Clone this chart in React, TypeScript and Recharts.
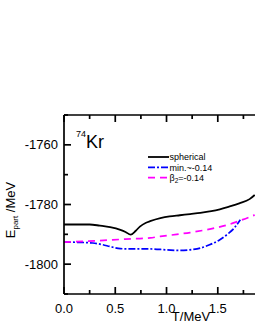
import { LineChart, Line, XAxis, YAxis } from "recharts";

// temperature (MeV) and energy (MeV)
const tSpherical = [0, 0.1, 0.25, 0.35, 0.45, 0.55, 0.6, 0.65, 0.7, 0.74, 0.8, 0.84, 0.94, 1.03, 1.13, 1.23, 1.33, 1.42, 1.52, 1.61, 1.71, 1.81, 1.86];
const eSpherical = [-1786.7, -1786.7, -1786.7, -1787.1, -1787.6, -1788.5, -1789.2, -1790.1, -1788.8, -1787.4, -1786.1, -1785.6, -1784.6, -1784.0, -1783.6, -1783.2, -1782.8, -1782.3, -1781.6, -1780.7, -1779.6, -1778.2, -1776.8];

const tMin = [0, 0.15, 0.28, 0.38, 0.45, 0.55, 0.7, 0.84, 1.0, 1.13, 1.25, 1.33, 1.42, 1.52, 1.6, 1.66, 1.72];
const eMin = [-1792.6, -1792.7, -1792.9, -1793.5, -1794.1, -1794.8, -1794.9, -1794.9, -1795.2, -1795.4, -1795.1, -1794.6, -1793.5, -1791.8, -1789.8, -1787.9, -1785.1];

const tBeta = [0, 0.3, 0.6, 0.84, 0.94, 1.1, 1.23, 1.35, 1.47, 1.6, 1.7, 1.81, 1.86];
const eBeta = [-1792.6, -1792.2, -1791.6, -1791.2, -1790.7, -1790.0, -1789.4, -1788.7, -1787.9, -1786.8, -1785.6, -1784.2, -1783.5];

const xTicks = [0, 0.25, 0.5, 0.75, 1, 1.25, 1.5, 1.75];
const xLabels = [0, 0.5, 1, 1.5];
const yTicks = [-1810, -1800, -1790, -1780, -1770, -1760, -1750];
const yLabels = [-1800, -1780, -1760];

const X_DOMAIN = [0, 1.863];
const Y_DOMAIN = [-1810, -1750];

const toPoints = (t: number[], e: number[]) => t.map((v, i) => ({ t: v, e: e[i] }));

const FONT = "'Liberation Sans', Arial, sans-serif";
const AXIS_W = 1.7;

// plot box in page pixels; chart margins and axis sizes are derived from it
const W = 255, H = 330;
const PLOT = { left: 64, right: 255, top: 115, bottom: 294 };
const Y_AXIS_W = 40, X_AXIS_H = 30, TOP_AXIS_H = 10;

const sx = (t: number) => PLOT.left + ((t - X_DOMAIN[0]) / (X_DOMAIN[1] - X_DOMAIN[0])) * (PLOT.right - PLOT.left);
const sy = (e: number) => PLOT.bottom - ((e - Y_DOMAIN[0]) / (Y_DOMAIN[1] - Y_DOMAIN[0])) * (PLOT.bottom - PLOT.top);

const SERIES = [
  { key: "spherical", data: toPoints(tSpherical, eSpherical), color: "#000000", dash: undefined, width: 1.8 },
  { key: "min", data: toPoints(tMin, eMin), color: "#0000ff", dash: "7 2 2 2", width: 1.7 },
  { key: "beta", data: toPoints(tBeta, eBeta), color: "#ff00ff", dash: "7 5", width: 1.7 },
];

function BottomLabel(props: any) {
  const { x, y, payload } = props;
  if (!xLabels.includes(payload.value)) return <g />;
  return (
    <text x={x} y={y + 18.5} textAnchor="middle" fontSize={13} fontFamily={FONT} fill="#000">
      {payload.value.toFixed(1)}
    </text>
  );
}

function LeftLabel(props: any) {
  const { x, y, payload } = props;
  if (!yLabels.includes(payload.value)) return <g />;
  return (
    <text x={x - 6} y={y + 4.6} textAnchor="end" fontSize={13} fontFamily={FONT} fill="#000">
      {payload.value}
    </text>
  );
}

// inward tick marks (major 7px, minor 4px) on bottom, top and left axes
function TickMarks() {
  return (
    <g fill="#000">
      {xTicks.map((t) => {
        const len = xLabels.includes(t) ? 7 : 4;
        const x = sx(t) - AXIS_W / 2;
        return (
          <g key={`x${t}`}>
            <rect x={x} y={PLOT.bottom - len} width={AXIS_W} height={len} />
            <rect x={x} y={PLOT.top} width={AXIS_W} height={len} />
          </g>
        );
      })}
      {yTicks.map((e) => {
        const len = yLabels.includes(e) ? 7 : 4;
        return <rect key={`y${e}`} x={PLOT.left} y={sy(e) - AXIS_W / 2} width={len} height={AXIS_W} />;
      })}
    </g>
  );
}

function LegendBox() {
  const rows = [
    { label: <tspan>spherical</tspan>, s: SERIES[0] },
    { label: <tspan>min.~-0.14</tspan>, s: SERIES[1] },
    {
      label: (
        <>
          <tspan>β</tspan>
          <tspan fontSize={6.5} dy={2}>2</tspan>
          <tspan dy={-2}>=-0.14</tspan>
        </>
      ),
      s: SERIES[2],
    },
  ];
  return (
    <g transform="translate(146,152)">
      {rows.map((r, i) => (
        <g key={i}>
          <line x1={2} x2={23} y1={5 + i * 10.3} y2={5 + i * 10.3} stroke={r.s.color} strokeWidth={r.s.width} strokeDasharray={r.s.dash} />
          <text x={23.5} y={8.2 + i * 10.3} fontSize={9} fontFamily={FONT} fill="#000">
            {r.label}
          </text>
        </g>
      ))}
    </g>
  );
}

export default function App() {
  return (
    <div style={{ position: "absolute", left: 0, top: 0, width: W, height: H, background: "#fff" }}>
      <LineChart
        width={W}
        height={H}
        margin={{
          top: PLOT.top - TOP_AXIS_H,
          right: W - PLOT.right,
          bottom: H - PLOT.bottom - X_AXIS_H,
          left: PLOT.left - Y_AXIS_W,
        }}
      >
        <XAxis
          xAxisId="b"
          dataKey="t"
          type="number"
          domain={X_DOMAIN}
          ticks={xTicks}
          height={X_AXIS_H}
          tickSize={0}
          tickMargin={0}
          tickLine={false}
          tick={BottomLabel}
          axisLine={{ stroke: "#000", strokeWidth: AXIS_W }}
          interval={0}
        />
        <XAxis
          xAxisId="t"
          orientation="top"
          dataKey="t"
          type="number"
          domain={X_DOMAIN}
          height={TOP_AXIS_H}
          tickLine={false}
          tick={false}
          axisLine={{ stroke: "#000", strokeWidth: AXIS_W }}
        />
        <YAxis
          type="number"
          domain={Y_DOMAIN}
          ticks={yTicks}
          width={Y_AXIS_W}
          tickSize={0}
          tickMargin={0}
          tickLine={false}
          tick={LeftLabel}
          axisLine={{ stroke: "#000", strokeWidth: AXIS_W }}
          interval={0}
        />
        {SERIES.map((s) => (
          <Line
            key={s.key}
            xAxisId="b"
            data={s.data}
            dataKey="e"
            type="monotone"
            stroke={s.color}
            strokeWidth={s.width}
            strokeDasharray={s.dash}
            dot={false}
            activeDot={false}
            isAnimationActive={false}
          />
        ))}
      </LineChart>
      <svg width={W} height={H} style={{ position: "absolute", left: 0, top: 0, pointerEvents: "none" }}>
        <TickMarks />
        <LegendBox />
        <text x={76} y={137} fontSize={9} fontFamily={FONT} fill="#000">74</text>
        <text x={86} y={148} fontSize={18} fontFamily={FONT} fill="#000">Kr</text>
        <text x={191} y={321} textAnchor="middle" fontSize={13} fontFamily={FONT} fill="#000">T/MeV</text>
        <text transform="translate(15,210) rotate(-90)" textAnchor="middle" fontSize={13} fontFamily={FONT} fill="#000">
          <tspan>E</tspan>
          <tspan fontSize={8} dy={2.5}>part</tspan>
          <tspan dy={-2.5}> /MeV</tspan>
        </text>
      </svg>
    </div>
  );
}
